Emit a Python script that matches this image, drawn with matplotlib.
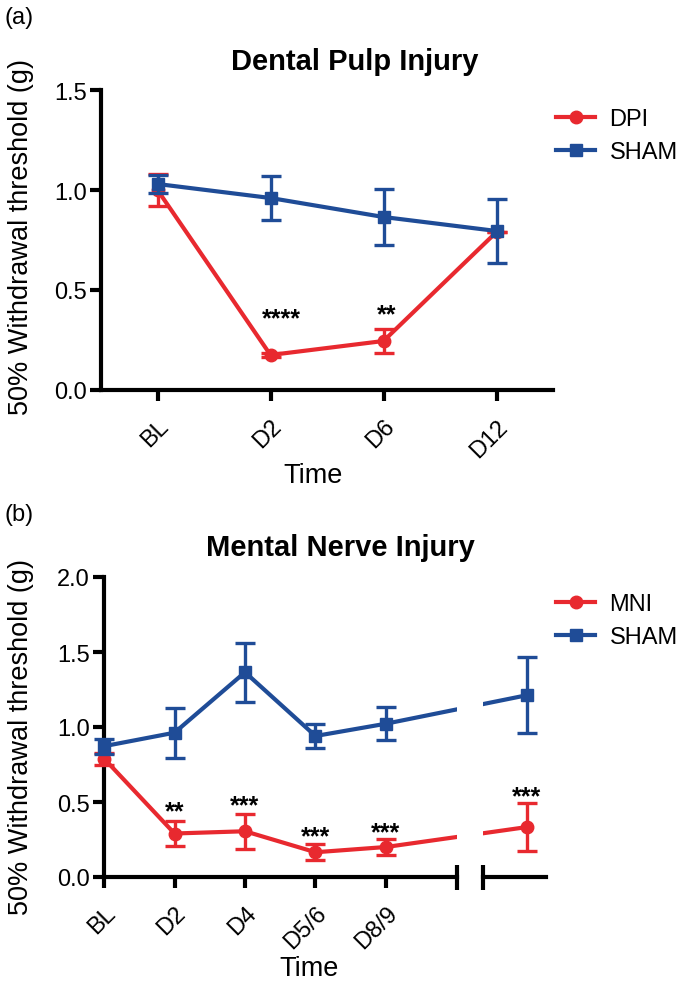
import matplotlib
matplotlib.use("Agg")
import matplotlib.pyplot as plt
from matplotlib.lines import Line2D
import numpy as np

plt.rcParams['font.family'] = ['Liberation Sans', 'DejaVu Sans']

RED = '#E8292F'
BLUE = '#1F4C97'

# ---- Panel (a) data ----
a_labels = ['BL', 'D2', 'D6', 'D12']
a_dpi = [1.00, 0.175, 0.245, 0.79]
a_dpi_err = [0.08, 0.01, 0.062, 0.0]
a_sham = [1.03, 0.96, 0.865, 0.795]
a_sham_err = [0.045, 0.11, 0.142, 0.16]
a_stars = ['', '****', '**', '']
a_star_y = [0, 0.36, 0.38, 0]
a_star_dx = [0, 0.1, 0.03, 0]

# ---- Panel (b) data ----
b_labels = ['BL', 'D2', 'D4', 'D5/6', 'D8/9', '']
b_pos = [0, 1, 2, 3, 4, 6]
b_mni = [0.79, 0.29, 0.305, 0.165, 0.20, 0.333]
b_mni_err = [0.04, 0.085, 0.115, 0.053, 0.053, 0.16]
b_sham = [0.872, 0.962, 1.365, 0.94, 1.022, 1.212]
b_sham_err = [0.05, 0.166, 0.195, 0.08, 0.11, 0.255]
b_stars = ['', '**', '***', '***', '***', '***']
b_star_y = [0, 0.44, 0.48, 0.27, 0.30, 0.54]

fig = plt.figure(figsize=(6.8, 9.87), dpi=100)

LW = 3.0
SPW = 3.0
XTICKFS = 17
YTICKFS = 17
LABFS = 19.5
STARFS = 18

def style(ax):
    for s in ['top', 'right']:
        ax.spines[s].set_visible(False)
    for s in ['left', 'bottom']:
        ax.spines[s].set_linewidth(SPW)
    ax.tick_params(axis='both', which='major', width=SPW, length=8)
    ax.tick_params(axis='x', labelsize=XTICKFS, pad=10)
    ax.tick_params(axis='y', labelsize=YTICKFS, pad=2)

def plot_series(ax, x, y, err, color, marker, label, ms, clip=True):
    ax.plot(x, y, color=color, lw=LW, marker=marker, ms=ms, label=label,
            clip_on=clip, zorder=3)
    ax.errorbar(x, y, yerr=err, fmt='none', ecolor=color, elinewidth=2.4,
                capsize=7, capthick=2.4, clip_on=clip, zorder=3)

def legend(labels, y_top):
    h = [Line2D([], [], color=RED, lw=LW, marker='o', ms=9),
         Line2D([], [], color=BLUE, lw=LW, marker='s', ms=9)]
    fig.legend(h, labels, loc='upper left', bbox_to_anchor=(547/680, 1 - y_top/987),
               frameon=False, fontsize=17, handlelength=1.65, handletextpad=0.6,
               labelspacing=0.45, borderaxespad=0)

# ---------------- Panel (a) ----------------
ax1 = fig.add_axes([101/680, 1 - 391/987, (553 - 101)/680, (391 - 91)/987])
xa = np.arange(len(a_labels))
plot_series(ax1, xa, a_dpi, a_dpi_err, RED, 'o', 'DPI', 9, clip=False)
plot_series(ax1, xa, a_sham, a_sham_err, BLUE, 's', 'SHAM', 9, clip=False)
for xi, s, yy, dx in zip(xa, a_stars, a_star_y, a_star_dx):
    if s:
        ax1.text(xi + dx, yy, s, ha='center', va='center', fontsize=STARFS, fontweight='bold')
ax1.set_xlim(-0.5, 3.5)
ax1.set_ylim(0, 1.5)
ax1.set_yticks([0, 0.5, 1.0, 1.5])
ax1.set_yticklabels(['0.0', '0.5', '1.0', '1.5'])
ax1.set_xticks(xa)
ax1.set_xticklabels(a_labels, rotation=45, ha='right', rotation_mode='anchor')
style(ax1)
fig.text(355/680, 1 - 62/987, 'Dental Pulp Injury', ha='center', va='center',
         fontsize=21, fontweight='bold')
fig.text(5/680, 1 - 18/987, '(a)', ha='left', va='center', fontsize=17)
fig.text(313/680, 1 - 476/987, 'Time', ha='center', va='center', fontsize=LABFS)
fig.text(21/680, 1 - 237/987, '50% Withdrawal threshold (g)', rotation=90,
         ha='center', va='center', fontsize=LABFS)
legend(['DPI', 'SHAM'], 100)

# ---------------- Panel (b) ----------------
px_per_unit = 70.5
left_lim = (-0.4, 5.01)
l_left = 104 + left_lim[0] * px_per_unit
l_right = 104 + left_lim[1] * px_per_unit
ax2 = fig.add_axes([l_left/680, 1 - 878/987, (l_right - l_left)/680, (878 - 578)/987])
r_lim = (5.38, 6.27)
r_left = 104 + r_lim[0] * px_per_unit
r_right = 104 + r_lim[1] * px_per_unit
ax3 = fig.add_axes([r_left/680, 1 - 878/987, (r_right - r_left)/680, (878 - 578)/987])
ax3.patch.set_alpha(0)

for ax in (ax2, ax3):
    plot_series(ax, b_pos, b_mni, b_mni_err, RED, 'o', 'MNI', 9, clip=True)
    plot_series(ax, b_pos, b_sham, b_sham_err, BLUE, 's', 'SHAM', 9, clip=True)
    ax.set_ylim(0, 2.0)

ax2.set_xlim(*left_lim)
ax2.spines['left'].set_position(('data', 0))
ax2.spines['bottom'].set_bounds(0, left_lim[1])
ax2.set_yticks([0, 0.5, 1.0, 1.5, 2.0])
ax2.set_yticklabels(['0.0', '0.5', '1.0', '1.5', '2.0'])
ax2.set_xticks(b_pos[:5])
ax2.set_xticklabels(b_labels[:5], rotation=45, ha='right', rotation_mode='anchor')
style(ax2)
ax2.set_xticks([left_lim[1]], minor=True)
ax2.tick_params(axis='x', which='minor', direction='inout', length=18, width=SPW)
ax2.set_xlim(*left_lim)

for s in ['top', 'right', 'left']:
    ax3.spines[s].set_visible(False)
ax3.spines['bottom'].set_linewidth(SPW)
ax3.set_yticks([])
ax3.set_xticks([])
ax3.set_xticks([r_lim[0]], minor=True)
ax3.tick_params(axis='x', which='minor', direction='inout', length=18, width=SPW,
                labelbottom=False)
ax3.set_xlim(*r_lim)

for xi, s, yy in zip(b_pos, b_stars, b_star_y):
    if s:
        target = ax3 if xi > left_lim[1] else ax2
        target.text(xi, yy, s, ha='center', va='center', fontsize=STARFS, fontweight='bold')

fig.text(5/680, 1 - 515/987, '(b)', ha='left', va='center', fontsize=17)
fig.text(340/680, 1 - 548/987, 'Mental Nerve Injury', ha='center', va='center',
         fontsize=21, fontweight='bold')
fig.text(309/680, 1 - 969/987, 'Time', ha='center', va='center', fontsize=LABFS)
fig.text(21/680, 1 - 737/987, '50% Withdrawal threshold (g)', rotation=90,
         ha='center', va='center', fontsize=LABFS)
legend(['MNI', 'SHAM'], 585)

fig.savefig('out.png', dpi=100)
